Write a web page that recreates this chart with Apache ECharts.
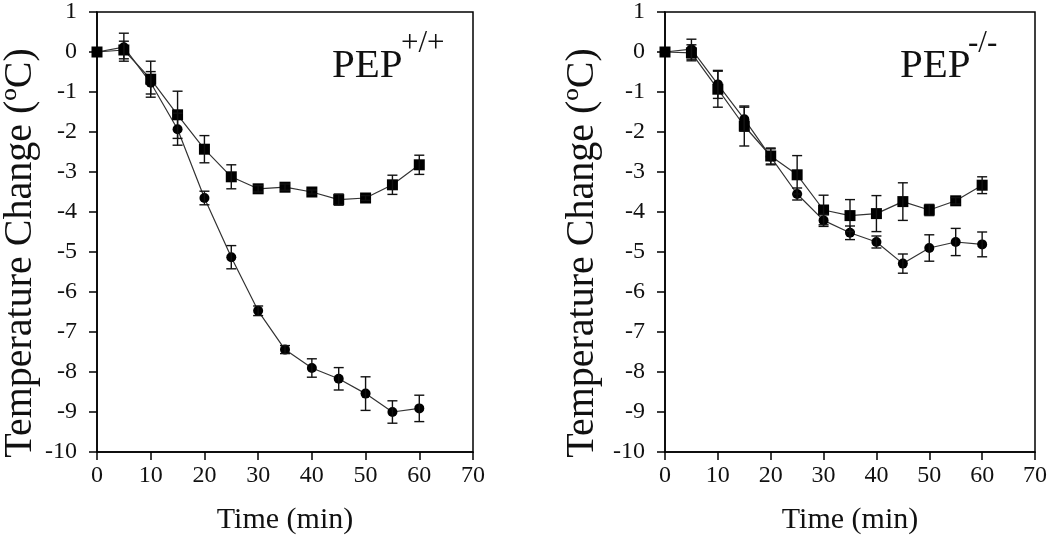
<!DOCTYPE html>
<html>
<head>
<meta charset="utf-8">
<script src="https://cdn.jsdelivr.net/npm/echarts@6/dist/echarts.min.js"></script>
<style>html,body{margin:0;padding:0;background:#fff;}#c{width:1050px;height:540px;}</style>
</head>
<body>
<div id="c"></div>
<script>
// ---- data ----
var timeMin = [0, 5, 10, 15, 20, 25, 30, 35, 40, 45, 50, 55, 60];
var xTicks = [0, 10, 20, 30, 40, 50, 60, 70];
var yTicks = [1, 0, -1, -2, -3, -4, -5, -6, -7, -8, -9, -10];

// PEP +/+ panel
var wtSquare    = [0, 0.05, -0.68, -1.57, -2.43, -3.12, -3.42, -3.38, -3.50, -3.69, -3.65, -3.32, -2.82];
var wtSquareErr = [0, 0.22, 0.45, 0.59, 0.34, 0.30, 0.08, 0.08, 0.05, 0.14, 0.06, 0.24, 0.24];
var wtCircle    = [0, 0.12, -0.77, -1.93, -3.65, -5.13, -6.47, -7.44, -7.90, -8.17, -8.54, -9.00, -8.91];
var wtCircleErr = [0, 0.35, 0.28, 0.40, 0.17, 0.29, 0.12, 0.10, 0.23, 0.28, 0.42, 0.28, 0.33];

// PEP -/- panel
var koSquare    = [0, -0.02, -0.93, -1.85, -2.60, -3.07, -3.95, -4.09, -4.04, -3.74, -3.95, -3.72, -3.33];
var koSquareErr = [0, 0.20, 0.45, 0.50, 0.20, 0.48, 0.37, 0.40, 0.45, 0.47, 0.14, 0.08, 0.21];
var koCircle    = [0, 0.07, -0.81, -1.68, -2.62, -3.55, -4.21, -4.52, -4.75, -5.29, -4.90, -4.75, -4.81];
var koCircleErr = [0, 0.25, 0.35, 0.30, 0.20, 0.15, 0.15, 0.17, 0.15, 0.24, 0.33, 0.34, 0.31];

var panelTitles = ['PEP', 'PEP'];
var panelSupers = ['+/+', '-/-'];
var xName = 'Time (min)';
var yName = 'Temperature Change (ºC)';

// ---- build ----
function pairs(v) { return timeMin.map(function (t, i) { return [t, v[i]]; }); }
function triples(v, e) { return timeMin.map(function (t, i) { return [t, v[i], e[i]]; }); }

var FONT = "'Liberation Serif', 'Times New Roman', Times, serif";

function errRender(params, api) {
  var x = api.value(0), y = api.value(1), e = api.value(2);
  if (!e) return null;
  var top = api.coord([x, y + e]);
  var bot = api.coord([x, y - e]);
  var hw = 5;
  var st = { stroke: '#111', lineWidth: 1.4 };
  return {
    type: 'group',
    children: [
      { type: 'line', shape: { x1: top[0], y1: top[1], x2: bot[0], y2: bot[1] }, style: st },
      { type: 'line', shape: { x1: top[0] - hw, y1: top[1], x2: top[0] + hw, y2: top[1] }, style: st },
      { type: 'line', shape: { x1: bot[0] - hw, y1: bot[1], x2: bot[0] + hw, y2: bot[1] }, style: st }
    ]
  };
}

function xAxis(gi) {
  return {
    type: 'value', gridIndex: gi, min: 0, max: 70, interval: 10,
    axisLine: { show: true, onZero: false, lineStyle: { color: '#000', width: 1.5 } },
    axisTick: { show: true, inside: false, length: 8, lineStyle: { color: '#000', width: 1.5 } },
    axisLabel: { color: '#111', fontFamily: FONT, fontSize: 24, margin: 12 },
    splitLine: { show: false },
    name: xName, nameLocation: 'middle', nameGap: 53,
    nameTextStyle: { color: '#111', fontFamily: FONT, fontSize: 30 }
  };
}
function yAxis(gi) {
  return {
    type: 'value', gridIndex: gi, min: -10, max: 1, interval: 1,
    axisLine: { show: true, onZero: false, lineStyle: { color: '#000', width: 1.5 } },
    axisTick: { show: true, inside: false, length: 8, lineStyle: { color: '#000', width: 1.5 } },
    axisLabel: { color: '#111', fontFamily: FONT, fontSize: 24, margin: 20 },
    splitLine: { show: false }
  };
}

function lineSeries(gi, vals, sym, size) {
  return {
    type: 'line', xAxisIndex: gi, yAxisIndex: gi, data: pairs(vals),
    symbol: sym, symbolSize: size, showSymbol: true,
    itemStyle: { color: '#000' },
    lineStyle: { color: '#333', width: 1.2 },
    z: 3
  };
}
function errSeries(gi, vals, errs) {
  return {
    type: 'custom', xAxisIndex: gi, yAxisIndex: gi,
    data: triples(vals, errs), encode: { x: 0, y: 1 },
    renderItem: errRender, z: 4
  };
}

var option = {
  animation: false,
  backgroundColor: '#fff',
  grid: [
    { left: 97, top: 11, width: 376, height: 441, show: true, borderColor: '#000', borderWidth: 1.5 },
    { left: 665, top: 11, width: 377, height: 441, show: true, borderColor: '#000', borderWidth: 1.5 }
  ],
  xAxis: [xAxis(0), xAxis(1)],
  yAxis: [yAxis(0), yAxis(1)],
  series: [
    lineSeries(0, wtCircle, 'circle', 10),
    lineSeries(0, wtSquare, 'rect', 11),
    errSeries(0, wtCircle, wtCircleErr),
    errSeries(0, wtSquare, wtSquareErr),
    lineSeries(1, koCircle, 'circle', 10),
    lineSeries(1, koSquare, 'rect', 11),
    errSeries(1, koCircle, koCircleErr),
    errSeries(1, koSquare, koSquareErr)
  ],
  graphic: [
    { type: 'text', x: 20, y: 253, rotation: Math.PI / 2,
      style: { text: yName, fontFamily: FONT, fontSize: 40, fill: '#111', align: 'center', verticalAlign: 'middle' } },
    { type: 'text', x: 582, y: 253, rotation: Math.PI / 2,
      style: { text: yName, fontFamily: FONT, fontSize: 40, fill: '#111', align: 'center', verticalAlign: 'middle' } },
    { type: 'text', x: 332, y: 66,
      style: { text: panelTitles[0], fontFamily: FONT, fontSize: 41, fill: '#111', align: 'left', verticalAlign: 'middle' } },
    { type: 'text', x: 401, y: 44,
      style: { text: panelSupers[0], fontFamily: FONT, fontSize: 31, fill: '#111', align: 'left', verticalAlign: 'middle' } },
    { type: 'text', x: 900, y: 66,
      style: { text: panelTitles[1], fontFamily: FONT, fontSize: 41, fill: '#111', align: 'left', verticalAlign: 'middle' } },
    { type: 'text', x: 968, y: 44,
      style: { text: panelSupers[1], fontFamily: FONT, fontSize: 31, fill: '#111', align: 'left', verticalAlign: 'middle' } }
  ]
};

var chart = echarts.init(document.getElementById('c'), null, { renderer: 'canvas' });
chart.setOption(option);
</script>
</body>
</html>
